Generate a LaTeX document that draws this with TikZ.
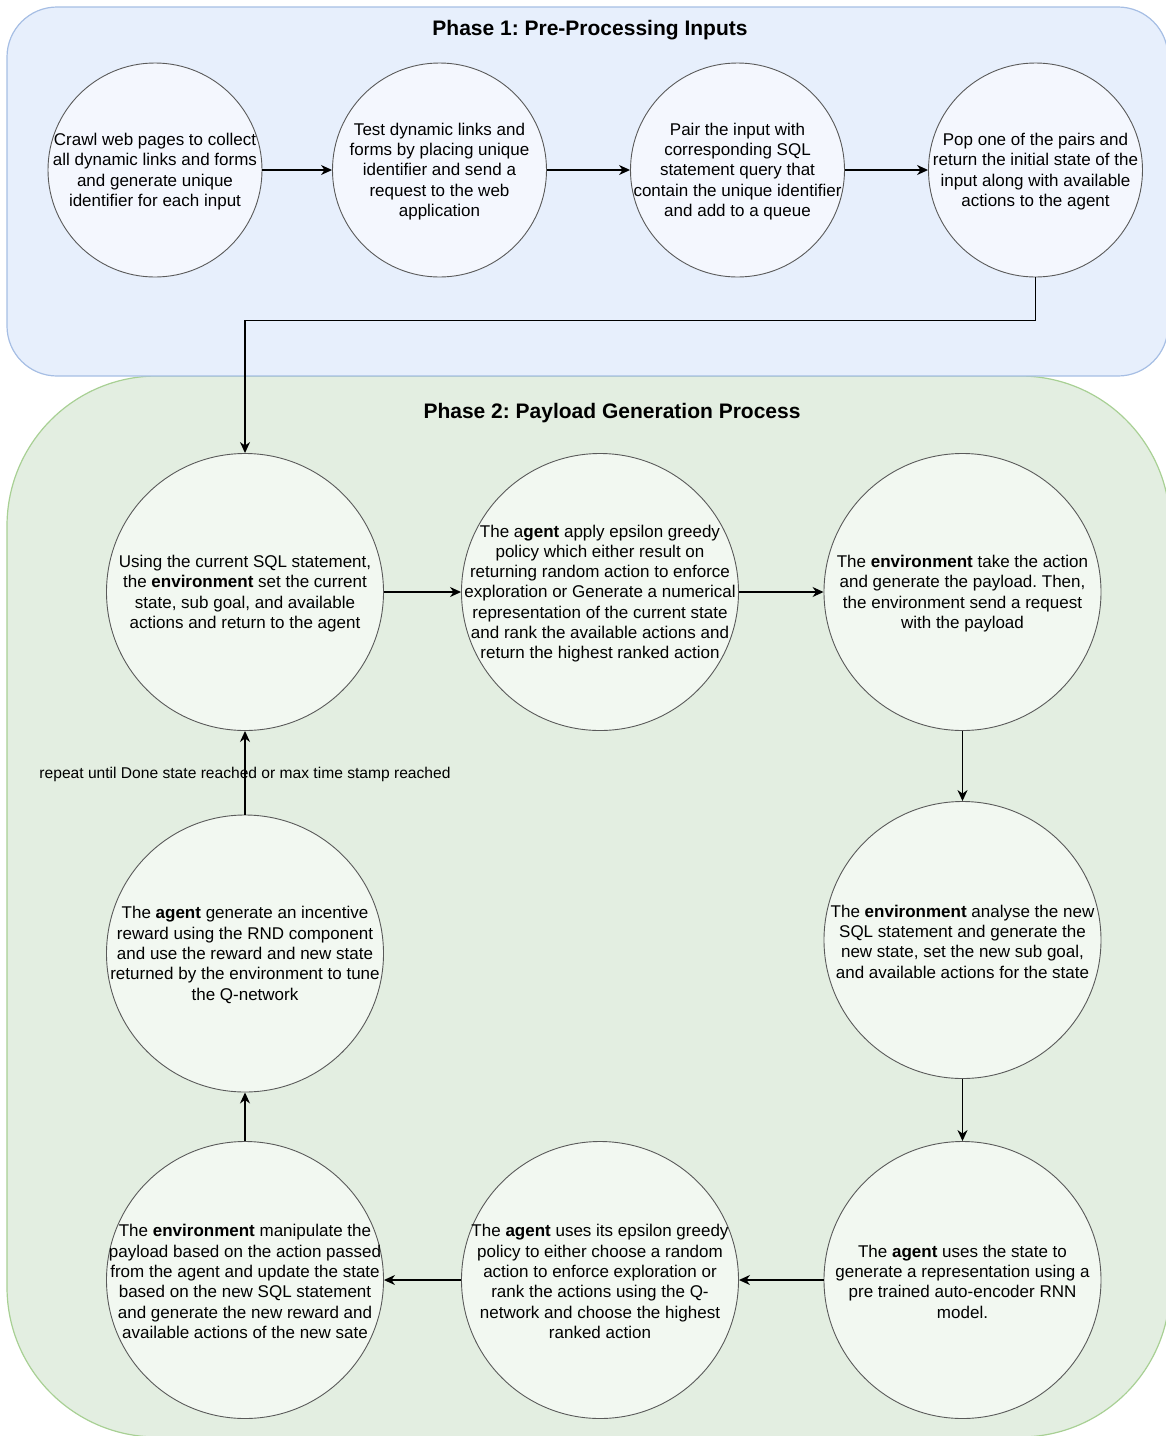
\documentclass[tikz,border=0pt]{standalone}
\usepackage{fontspec}
\setmainfont{Liberation Sans}
\usetikzlibrary{arrows.meta}
\frenchspacing

\definecolor{phaseAfill}{RGB}{231,239,252}
\definecolor{phaseAline}{RGB}{166,190,228}
\definecolor{phaseBfill}{RGB}{227,238,225}
\definecolor{phaseBline}{RGB}{168,208,148}
\definecolor{bubbleA}{RGB}{244,247,254}
\definecolor{bubbleB}{RGB}{242,248,241}
\definecolor{rim}{RGB}{90,90,90}

\tikzset{
  phasebox/.style={line width=1.2pt},
  bubble/.style={circle, draw=rim, line width=0.9pt, inner sep=0pt},
  smallbubble/.style={bubble, fill=bubbleA, minimum size=214pt},
  bigbubble/.style={bubble, fill=bubbleB, minimum size=277pt},
  bubbletext/.style={align=center, inner sep=0pt, yshift=-1.5pt,
    font=\fontsize{17}{20.3}\selectfont},
  heading/.style={font=\fontsize{21}{25}\selectfont\bfseries, yshift=-2pt},
  note/.style={font=\fontsize{15.6}{18.5}\selectfont, inner sep=0pt, yshift=-2pt},
  arr/.style={line width=1.3pt, draw=black,
    -{Stealth[length=11pt, width=10pt, inset=3.5pt]}}
}

\begin{document}
\begin{tikzpicture}[x=1pt, y=-1pt]
\useasboundingbox (0,0) rectangle (1166,1436);

% phase containers
\draw[phasebox, fill=phaseBfill, draw=phaseBline, rounded corners=150pt]
  (7,376) rectangle (1170,1437);
\draw[phasebox, fill=phaseAfill, draw=phaseAline, rounded corners=50pt]
  (7,7) rectangle (1168,376);

\node[heading] (h1) at (590,28) {Phase 1: Pre-Processing Inputs};
\node[heading] (h2) at (612,411) {Phase 2: Payload Generation Process};

% phase 1 steps
\node[smallbubble] (crawl) at (155,170) {};
\node[smallbubble] (test)  at (439.5,170) {};
\node[smallbubble] (pair)  at (737.5,170) {};
\node[smallbubble] (pop)   at (1035.5,170) {};

\node[bubbletext] (crawlT) at (crawl) {Crawl web pages to collect\\all dynamic links and forms\\and generate unique\\identifier for each input};
\node[bubbletext] (testT) at (test) {Test dynamic links and\\forms by placing unique\\identifier and send a\\request to the web\\application};
\node[bubbletext] (pairT) at (pair) {Pair the input with\\corresponding SQL\\statement query that\\contain the unique identifier\\and add to a queue};
\node[bubbletext] (popT) at (pop) {Pop one of the pairs and\\return the initial state of the\\input along with available\\actions to the agent};

% phase 2 steps
\node[bigbubble] (setst)     at (245,592) {};
\node[bigbubble] (apply)     at (600,592) {};
\node[bigbubble] (take)      at (962.5,592) {};
\node[bigbubble] (analyse)   at (962.5,940) {};
\node[bigbubble] (represent) at (962.5,1280) {};
\node[bigbubble] (choose)    at (600,1280) {};
\node[bigbubble] (manip)     at (245,1280) {};
\node[bigbubble] (reward)    at (245,953.5) {};

\node[bubbletext] (setstT) at (setst) {Using the current SQL statement,\\the \textbf{environment} set the current\\state, sub goal, and available\\actions and return to the agent};
\node[bubbletext] (applyT) at (apply) {The a\textbf{gent} apply epsilon greedy\\policy which either result on\\returning random action to enforce\\exploration or Generate a numerical\\representation of the current state\\and rank the available actions and\\return the highest ranked action};
\node[bubbletext] (takeT) at (take) {The \textbf{environment} take the action\\and generate the payload. Then,\\the environment send a request\\with the payload};
\node[bubbletext] (analyseT) at (analyse) {The \textbf{environment} analyse the new\\SQL statement and generate the\\new state, set the new sub goal,\\and available actions for the state};
\node[bubbletext] (representT) at (represent) {The \textbf{agent} uses the state to\\generate a representation using a\\pre trained auto-encoder RNN\\model.};
\node[bubbletext] (chooseT) at (choose) {The \textbf{agent} uses its epsilon greedy\\policy to either choose a random\\action to enforce exploration or\\rank the actions using the Q-\\network and choose the highest\\ranked action};
\node[bubbletext] (manipT) at (manip) {The \textbf{environment} manipulate the\\payload based on the action passed\\from the agent and update the state\\based on the new SQL statement\\and generate the new reward and\\available actions of the new sate};
\node[bubbletext] (rewardT) at (reward) {The \textbf{agent} generate an incentive\\reward using the RND component\\and use the reward and new state\\returned by the environment to tune\\the Q-network};

% flow
\draw[arr] (crawl) -- (test);
\draw[arr] (test) -- (pair);
\draw[arr] (pair) -- (pop);
\draw[arr] (pop.south) -- ++(0,43) -| (setst.north);
\draw[arr] (setst) -- (apply);
\draw[arr] (apply) -- (take);
\draw[arr] (take) -- (analyse);
\draw[arr] (analyse) -- (represent);
\draw[arr] (represent) -- (choose);
\draw[arr] (choose) -- (manip);
\draw[arr] (manip) -- (reward);
\draw[arr] (reward.north) -- node[note, pos=0.5] (loop) {repeat until Done state reached or max time stamp reached} (setst.south);
\end{tikzpicture}
\end{document}
